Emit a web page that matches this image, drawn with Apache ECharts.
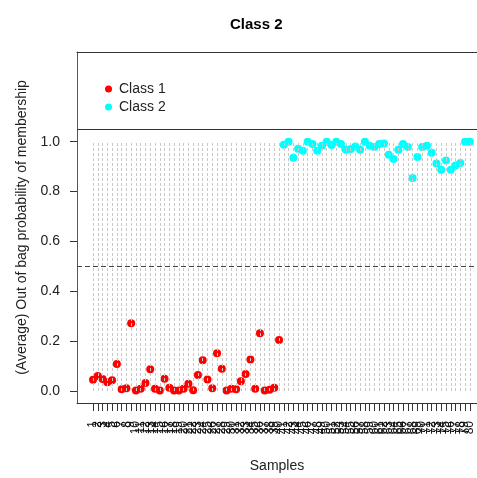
<!DOCTYPE html>
<html>
<head>
<meta charset="utf-8">
<script src="https://cdn.jsdelivr.net/npm/echarts@6/dist/echarts.min.js"></script>
<style>html,body{margin:0;padding:0;background:#fff;}#c{width:477px;height:478px;}</style>
</head>
<body>
<div id="c"></div>
<script>
// Sample labels (x axis)
var sampleLabels = [];
for (var k = 1; k <= 80; k++) sampleLabels.push(String(k));
// Class 1 samples 1..40
var class1Samples = [1,2,3,4,5,6,7,8,9,10,11,12,13,14,15,16,17,18,19,20,21,22,23,24,25,26,27,28,29,30,31,32,33,34,35,36,37,38,39,40];
var class1Values = [0.045,0.060,0.048,0.035,0.043,0.108,0.007,0.011,0.272,0.002,0.009,0.032,0.087,0.009,0.002,0.049,0.013,0.002,0.002,0.009,0.029,0.003,0.064,0.123,0.046,0.011,0.152,0.089,0.002,0.009,0.007,0.039,0.068,0.126,0.009,0.232,0.002,0.005,0.013,0.205];
// Class 2 samples 41..80
var class2Samples = [41,42,43,44,45,46,47,48,49,50,51,52,53,54,55,56,57,58,59,60,61,62,63,64,65,66,67,68,69,70,71,72,73,74,75,76,77,78,79,80];
var class2Values = [0.988,1.000,0.936,0.972,0.964,1.000,0.991,0.964,0.984,1.000,0.987,1.000,0.991,0.968,0.971,0.981,0.968,1.000,0.984,0.979,0.991,0.993,0.948,0.931,0.968,0.991,0.979,0.855,0.939,0.979,0.984,0.956,0.913,0.888,0.925,0.888,0.905,0.915,1.000,1.000];
var yTicks = [0, 0.2, 0.4, 0.6, 0.8, 1.0];
var threshold = 0.5;
var legendTop = 1.055;

var FONT = 'Liberation Sans, Arial, sans-serif';
var XMIN = -2.354, XMAX = 81.5;
var xTickValues = sampleLabels.map(function (s) { return Number(s); });
var guideLines = xTickValues.map(function (v) {
  return [{ coord: [v, 0] }, { coord: [v, 1] }];
});
function pairs(xs, ys) { return xs.map(function (x, i) { return [x, ys[i]]; }); }

// geometry: main grid 77..477; the label grid spans sample 1..N exactly
var gridLeft = 77, gridRight = 0, W = 477;
var pxPerUnit = (W - gridLeft - gridRight) / (XMAX - XMIN);
var firstPx = gridLeft + (xTickValues[0] - XMIN) * pxPerUnit;
var lastPx = gridLeft + (xTickValues[xTickValues.length - 1] - XMIN) * pxPerUnit;

var chart = echarts.init(document.getElementById('c'), null, { renderer: 'canvas' });
chart.setOption({
  animation: false,
  backgroundColor: '#ffffff',
  textStyle: { fontFamily: FONT },
  title: {
    text: 'Class 2', left: 225, top: 12,
    textStyle: { fontFamily: FONT, fontSize: 15, fontWeight: 'bold', color: '#000' }
  },
  legend: {
    orient: 'vertical', left: 100, top: 77, itemWidth: 7, itemHeight: 7, itemGap: 4,
    icon: 'circle',
    textStyle: { fontFamily: FONT, fontSize: 14, color: '#222', padding: [0, 0, 0, 2] },
    data: ['Class 1', 'Class 2']
  },
  grid: [
    { left: gridLeft, right: gridRight, top: 52, bottom: 74, show: false },
    { left: firstPx, right: W - lastPx, top: 52, bottom: 74, show: false }
  ],
  xAxis: [{
    type: 'value', min: XMIN, max: XMAX, gridIndex: 0,
    name: 'Samples', nameLocation: 'middle', nameGap: 56,
    nameTextStyle: { fontFamily: FONT, fontSize: 14, color: '#222' },
    axisLine: { show: true, onZero: false, lineStyle: { color: '#333', width: 1 } },
    axisTick: { show: false }, axisLabel: { show: false },
    splitLine: { show: false }
  }, {
    type: 'value', position: 'top', min: XMIN, max: XMAX, gridIndex: 0,
    axisLine: { show: true, onZero: false, lineStyle: { color: '#333', width: 1 } },
    axisTick: { show: false }, axisLabel: { show: false }, splitLine: { show: false }
  }, {
    type: 'category', gridIndex: 1, data: sampleLabels, boundaryGap: false, position: 'bottom',
    axisLine: { show: false, onZero: false },
    axisTick: { show: true, length: 7, interval: 0, alignWithLabel: true, lineStyle: { color: '#333' } },
    axisLabel: {
      show: true, interval: 0, rotate: 90, margin: 17, fontSize: 12, color: '#111',
      fontFamily: FONT, hideOverlap: false
    },
    splitLine: { show: false }
  }],
  yAxis: [{
    type: 'value', min: -0.048, max: 1.36, gridIndex: 0,
    name: '(Average) Out of bag probability of membership',
    nameLocation: 'middle', nameGap: 48, nameRotate: 90,
    nameTextStyle: { fontFamily: FONT, fontSize: 14, color: '#222' },
    axisLine: { show: true, onZero: false, lineStyle: { color: '#555', width: 1 } },
    axisTick: { show: true, length: 7, customValues: yTicks, lineStyle: { color: '#333' } },
    axisLabel: {
      show: true, margin: 17, fontSize: 14, color: '#222', fontFamily: FONT,
      customValues: yTicks,
      formatter: function (v) { return v.toFixed(1); }
    },
    splitLine: { show: false }
  }, {
    type: 'value', min: -0.048, max: 1.36, gridIndex: 1, show: false
  }],
  series: [{
    type: 'scatter', name: 'guides', data: [], silent: true, xAxisIndex: 0, yAxisIndex: 0,
    markLine: {
      silent: true, symbol: ['none', 'none'], label: { show: false },
      lineStyle: { color: '#c8c8c8', type: [3, 2], width: 1 },
      data: guideLines
    }
  }, {
    type: 'scatter', name: 'lines', data: [], silent: true, xAxisIndex: 0, yAxisIndex: 0,
    markLine: {
      silent: true, symbol: ['none', 'none'], label: { show: false },
      data: [
        { yAxis: threshold, lineStyle: { color: '#444', type: [5, 3], width: 1 } },
        { yAxis: legendTop, lineStyle: { color: '#333', type: 'solid', width: 1 } }
      ]
    }
  }, {
    type: 'scatter', name: 'labelsAnchor', data: [], silent: true, xAxisIndex: 2, yAxisIndex: 1
  }, {
    type: 'scatter', name: 'Class 1', symbol: 'circle', symbolSize: 8, xAxisIndex: 0, yAxisIndex: 0,
    itemStyle: { color: '#ff0000', opacity: 1 },
    data: pairs(class1Samples, class1Values)
  }, {
    type: 'scatter', name: 'Class 2', symbol: 'circle', symbolSize: 8, xAxisIndex: 0, yAxisIndex: 0,
    itemStyle: { color: '#00ffff', opacity: 1 },
    data: pairs(class2Samples, class2Values)
  }]
});
</script>
</body>
</html>
